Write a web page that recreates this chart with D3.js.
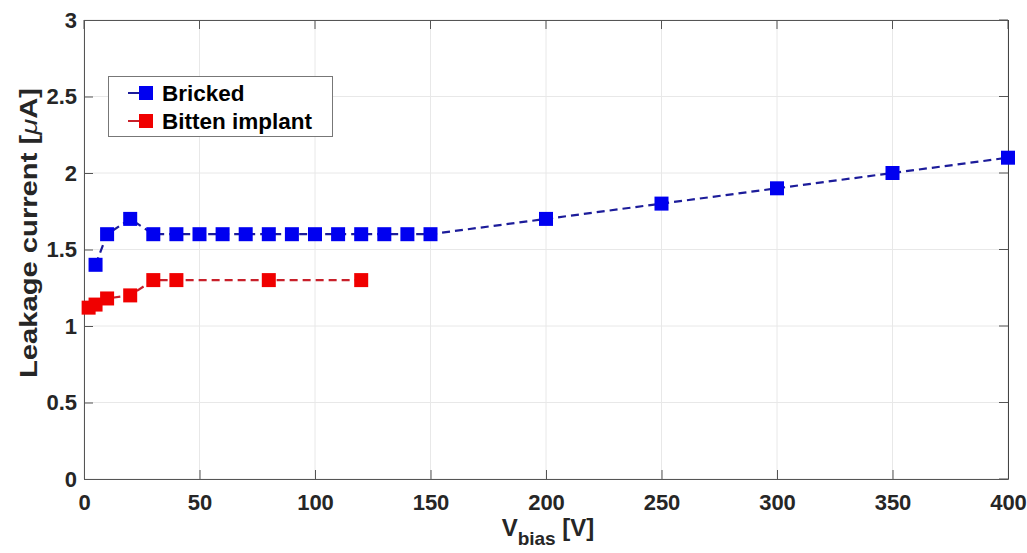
<!DOCTYPE html>
<html><head><meta charset="utf-8">
<script src="https://cdn.jsdelivr.net/npm/d3@7"></script>
<style>body{margin:0;background:#fff;} text{font-family:"Liberation Sans",Arial,sans-serif;font-weight:bold;}</style>
</head><body>
<svg id="c" width="1027" height="553"></svg>
<script>
const brickedX = [5,10,20,30,40,50,60,70,80,90,100,110,120,130,140,150,200,250,300,350,400];
const brickedY = [1.4,1.6,1.7,1.6,1.6,1.6,1.6,1.6,1.6,1.6,1.6,1.6,1.6,1.6,1.6,1.6,1.7,1.8,1.9,2.0,2.1];
const bittenX = [2,5,10,20,30,40,80,120];
const bittenY = [1.12,1.14,1.18,1.2,1.3,1.3,1.3,1.3];
const xTicks = [0,50,100,150,200,250,300,350,400];
const yTicks = [0,0.5,1,1.5,2,2.5,3];
const yTickLabels = ["0","0.5","1","1.5","2","2.5","3"];
const seriesNames = ["Bricked","Bitten implant"];

const svg = d3.select("#c");
const L=84,R=1008,T=20,B=479;
const x = d3.scaleLinear().domain([0,400]).range([L,R]);
const y = d3.scaleLinear().domain([0,3]).range([B,T]);

// grid
svg.append("g").selectAll("line").data(xTicks).join("line")
  .attr("x1",d=>x(d)).attr("x2",d=>x(d)).attr("y1",T).attr("y2",B)
  .attr("stroke","#e8e8e8").attr("stroke-width",1);
svg.append("g").selectAll("line").data(yTicks).join("line")
  .attr("y1",d=>y(d)).attr("y2",d=>y(d)).attr("x1",L).attr("x2",R)
  .attr("stroke","#e8e8e8").attr("stroke-width",1);

// axes
const ax = svg.append("g").attr("transform",`translate(0,${B})`)
  .call(d3.axisBottom(x).tickValues(xTicks).tickSize(-9).tickPadding(15));
const ay = svg.append("g").attr("transform",`translate(${L},0)`)
  .call(d3.axisLeft(y).tickValues(yTicks).tickFormat((d,i)=>yTickLabels[i]).tickSize(-9).tickPadding(7));
[ax,ay].forEach(g=>{
  g.select(".domain").attr("stroke","#555");
  g.selectAll(".tick line").attr("stroke","#555");
  g.selectAll(".tick text").attr("fill","#262626").style("font-size","22px").style("font-weight","bold")
   .style("font-family","'Liberation Sans',Arial,sans-serif");
});
// top & right ticks + box
svg.append("g").selectAll("line").data(xTicks).join("line")
  .attr("x1",d=>x(d)).attr("x2",d=>x(d)).attr("y1",T).attr("y2",T+9).attr("stroke","#555");
svg.append("g").selectAll("line").data(yTicks).join("line")
  .attr("y1",d=>y(d)).attr("y2",d=>y(d)).attr("x1",R).attr("x2",R-9).attr("stroke","#555");
svg.append("line").attr("x1",L).attr("x2",R).attr("y1",T+0.5).attr("y2",T+0.5).attr("stroke","#555");
svg.append("line").attr("x1",R+0.5).attr("x2",R+0.5).attr("y1",T).attr("y2",B).attr("stroke","#444");

// series
function series(xs,ys,lineCol,markCol){
  const data = xs.map((d,i)=>[d,ys[i]]);
  svg.append("path").datum(data)
    .attr("d",d3.line().x(d=>x(d[0])).y(d=>y(d[1])))
    .attr("fill","none").attr("stroke",lineCol).attr("stroke-width",2.2).attr("stroke-dasharray","8,5");
  svg.append("g").selectAll("rect").data(data).join("rect")
    .attr("x",d=>x(d[0])-7).attr("y",d=>y(d[1])-7).attr("width",14).attr("height",14)
    .attr("fill",markCol);
}
series(bittenX,bittenY,"#c8202a","#f00000");
series(brickedX,brickedY,"#1c1c9a","#0000f0");

// legend
const lg = svg.append("g");
lg.append("rect").attr("x",108.5).attr("y",76.5).attr("width",224).attr("height",60)
  .attr("fill","#fff").attr("stroke","#777").attr("stroke-width",1);
const legCols=[["#1c1c9a","#0000f0"],["#c8202a","#f00000"]];
seriesNames.forEach((n,i)=>{
  const cy = 93 + i*28;
  lg.append("line").attr("x1",128).attr("x2",152).attr("y1",cy).attr("y2",cy)
    .attr("stroke",legCols[i][0]).attr("stroke-width",2);
  lg.append("rect").attr("x",139).attr("y",cy-7).attr("width",14).attr("height",14).attr("fill",legCols[i][1]);
  lg.append("text").attr("x",162).attr("y",cy+8).text(n).attr("fill","#000").style("font-size","22.5px");
});

// axis labels
svg.append("text").attr("transform","translate(37,233) rotate(-90)").attr("text-anchor","middle")
  .attr("fill","#262626").style("font-size","23px").attr("textLength",290).attr("lengthAdjust","spacingAndGlyphs")
  .html('Leakage current [<tspan font-style="italic" font-weight="normal">μ</tspan>A]');
const xl = svg.append("text").attr("x",548).attr("y",536).attr("text-anchor","middle")
  .attr("fill","#262626").style("font-size","24px");
xl.append("tspan").text("V");
xl.append("tspan").attr("dy",9).style("font-size","19px").text("bias");
xl.append("tspan").attr("dy",-9).text(" [V]");
</script>
</body></html>
